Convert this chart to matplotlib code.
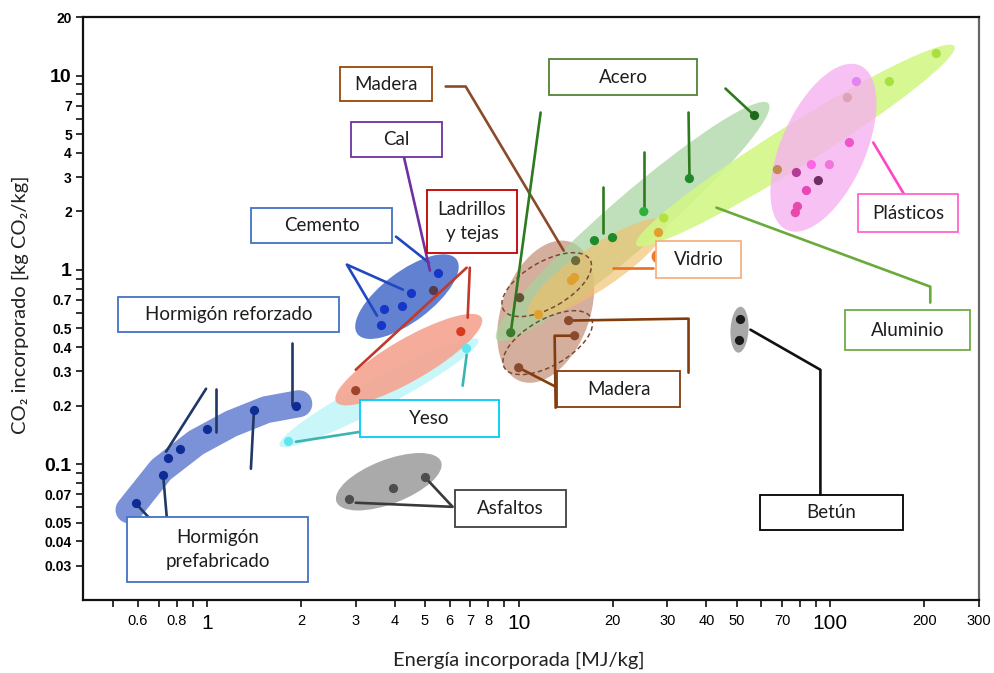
import matplotlib
matplotlib.use("Agg")
import matplotlib.pyplot as plt
from matplotlib.patches import Ellipse, Rectangle
from matplotlib.transforms import ScaledTranslation
from matplotlib.ticker import FixedLocator, NullLocator

# ---------------- data: embodied energy [MJ/kg] vs embodied CO2 [kg CO2/kg]
horm_x = [0.59, 0.72, 0.75, 0.82, 1.00, 1.42, 1.93]
horm_y = [0.063, 0.088, 0.108, 0.120, 0.152, 0.190, 0.200]
horm_band_x = [0.562, 0.712, 0.922, 1.194, 1.546, 1.97]
horm_band_y = [0.0582, 0.0936, 0.129, 0.1614, 0.1906, 0.2047]

yeso_x = [1.82, 6.76]
yeso_y = [0.132, 0.398]

ladr_x = [3.00, 6.52]
ladr_y = [0.239, 0.481]

cem_x = [3.61, 3.69, 4.22, 4.51, 5.50]
cem_y = [0.522, 0.631, 0.654, 0.763, 0.967]

cal_x = [5.30]
cal_y = [0.791]

asf_x = [2.85, 3.95, 4.99]
asf_y = [0.0663, 0.0756, 0.0861]

betun_x = [51.4, 51.1]
betun_y = [0.559, 0.437]

mad_x = [10.07, 15.23, 14.46, 15.12, 10.0]
mad_y = [0.719, 1.115, 0.548, 0.458, 0.3135]

acero_x = [9.43, 17.5, 20.0, 25.2, 35.3, 57.1]
acero_y = [0.475, 1.414, 1.465, 1.994, 2.949, 6.225]

vid_x = [11.5, 14.7, 15.1, 27.9]
vid_y = [0.595, 0.890, 0.923, 1.573]

alu_x = [29.2, 67.6, 154.6, 218.7]
alu_y = [1.85, 3.28, 9.31, 12.98]

plas_x = [121.2, 113.4, 115.1, 86.9, 99.3, 77.8, 91.5, 83.8, 78.4, 77.2]
plas_y = [9.31, 7.70, 4.52, 3.48, 3.48, 3.17, 2.88, 2.56, 2.12, 1.97]
plas_colors = ['#e284f2', '#dba2b8', '#ef55c6', '#ff66e6', '#f276d8',
               '#b43a98', '#6e2e62', '#e845b8', '#e848b0', '#e848ac']

x_ticks = [0.5, 0.6, 0.7, 0.8, 0.9, 1, 2, 3, 4, 5, 6, 7, 8, 9, 10,
           20, 30, 40, 50, 60, 70, 80, 90, 100, 200, 300]
x_labels = ['', '0.6', '', '0.8', '', '1', '2', '3', '4', '5', '6', '7', '8', '',
            '10', '20', '30', '40', '50', '', '70', '', '', '100', '200', '300']
y_ticks = [0.03, 0.04, 0.05, 0.06, 0.07, 0.08, 0.09, 0.1, 0.2, 0.3, 0.4, 0.5,
           0.6, 0.7, 0.8, 0.9, 1, 2, 3, 4, 5, 6, 7, 8, 9, 10, 20]
y_labels = ['0.03', '0.04', '0.05', '', '0.07', '', '', '0.1', '0.2', '0.3', '0.4',
            '0.5', '', '0.7', '', '', '1', '2', '3', '4', '5', '', '7', '', '', '10', '20']
big_labels = {'1', '10', '100', '0.1'}

TXT = ['Lato', 'DejaVu Sans']

fig = plt.figure(figsize=(9.95, 6.73), dpi=100)
ax = fig.add_axes([0.0834, 0.1085, 0.9006, 0.8662])
ax.set_xscale('log')
ax.set_yscale('log')
ax.set_xlim(0.4, 300)
ax.set_ylim(0.02, 20)


def blob(cx, cy, length, width, angle, color, alpha, z=1, **kw):
    """Ellipse sized in inches, centred on a data position."""
    tr = fig.dpi_scale_trans + ScaledTranslation(cx, cy, ax.transData)
    e = Ellipse((0, 0), length, width, angle=angle, transform=tr,
                zorder=z, **kw)
    if 'facecolor' not in kw:
        e.set_facecolor(color)
        e.set_edgecolor('none')
    e.set_alpha(alpha)
    ax.add_patch(e)


# ---------------- shaded groups
ax.plot(horm_band_x, horm_band_y, color='#6d85d4', lw=19.5, alpha=0.9,
        solid_capstyle='round', solid_joinstyle='round', zorder=1)
blob(3.56, 0.233, 2.25, 0.30, 28, '#c6f6f9', 0.95)           # Yeso
blob(4.44, 0.345, 1.68, 0.42, 30, '#f6a390', 0.9)            # Ladrillos
blob(4.38, 0.728, 1.24, 0.50, 37, '#5273cc', 0.9)            # Cemento
blob(3.83, 0.0812, 1.12, 0.44, 21, '#a6a6a6', 0.95)          # Asfaltos
blob(51.1, 0.492, 0.46, 0.18, 87, '#a3a3a3', 0.95)           # Betún
blob(12.21, 0.609, 1.48, 0.88, 70, '#c8947c', 0.75)          # Madera
blob(23.2, 1.771, 3.60, 0.52, 41, '#a6d39e', 0.7, z=2)       # Acero
blob(17.9, 1.026, 1.65, 0.42, 34, '#f1c06a', 0.65, z=2)      # Vidrio
blob(77.2, 4.36, 3.75, 0.42, 32, '#d2f786', 0.9, z=2)        # Aluminio
blob(95.0, 4.25, 1.80, 0.84, 66, '#f7b2f2', 0.8, z=2)        # Plásticos
for cx, cy in [(12.3, 0.839), (12.39, 0.422)]:
    blob(cx, cy, 1.0, 0.46, 30, None, 1.0, z=3, facecolor='none',
         edgecolor='#7a4a30', linestyle=(0, (3, 2)), linewidth=1.1)

# ---------------- leader lines
leaders = [
    ('#1f3864', [0.739, 0.993], [0.1159, 0.2444]),
    ('#1f3864', [1.069, 1.069], [0.2444, 0.1469]),
    ('#1f3864', [1.873, 1.873], [0.4218, 0.2022]),
    ('#1f3864', [1.415, 1.383], [0.1906, 0.0947]),
    ('#1f3864', [0.588, 0.661], [0.0633, 0.0517]),
    ('#1f3864', [0.723, 0.744], [0.0882, 0.0517]),
    ('#2148c0', [4.25, 2.81, 3.51], [0.791, 1.064, 0.581]),
    ('#2148c0', [4.04, 5.15], [1.482, 1.089]),
    ('#7030a0', [4.28, 5.19], [3.83, 0.991]),
    ('#c0392b', [6.81, 3.00], [1.026, 0.306]),
    ('#c0392b', [6.97, 6.86], [1.026, 0.567]),
    ('#3cb4b4', [1.929, 3.12], [0.1304, 0.1469]),
    ('#3cb4b4', [6.61, 6.81], [0.2533, 0.366]),
    ('#3a3a3a', [3.0, 6.14, 4.99], [0.0633, 0.0603, 0.0861]),
    ('#8b4a2b', [5.83, 6.76, 13.94], [8.78, 8.78, 1.256]),
    ('#2e7a1e', [11.76, 9.43], [6.45, 0.475]),
    ('#2e7a1e', [18.59, 18.59], [2.682, 1.554]),
    ('#2e7a1e', [25.16, 25.16], [4.06, 2.042]),
    ('#2e7a1e', [35.07, 35.33], [6.45, 2.949]),
    ('#2e7a1e', [46.07, 57.06], [8.57, 6.225]),
    ('#e87020', [20.01, 26.89], [1.026, 1.026]),
    ('#843c0c', [14.46, 35.07, 35.07], [0.548, 0.561, 0.2956]),
    ('#843c0c', [15.12, 13.04, 13.14], [0.458, 0.458, 0.1952]),
    ('#843c0c', [10.0, 13.14], [0.3135, 0.2503]),
    ('#6aaa3a', [43.1, 209.2, 209.2], [2.09, 0.8194, 0.678]),
    ('#ff44c4', [137.3, 172.6], [4.52, 2.44]),
    ('#111111', [55.4, 92.9, 92.9], [0.492, 0.306, 0.0696]),
]
for col, xs, ys in leaders:
    ax.plot(xs, ys, color=col, lw=1.9, zorder=4, solid_capstyle='round')

# small orange mark peeking out beside the glass label
ax.plot([27.9], [1.183], 'o', color='#f07a2a', ms=9, zorder=4)

# ---------------- points
ms = 44
ax.scatter(horm_x, horm_y, s=ms, color='#0d2c94', zorder=5, lw=0)
ax.scatter(yeso_x, yeso_y, s=ms, color='#5fe6f0', zorder=5, lw=0)
ax.scatter(ladr_x, ladr_y, s=ms, color=['#a0442a', '#d83a20'], zorder=5, lw=0)
ax.scatter(cem_x, cem_y, s=ms, color='#1636c8', zorder=5, lw=0)
ax.scatter(cal_x, cal_y, s=ms, color='#5a3a4a', zorder=5, lw=0)
ax.scatter(asf_x, asf_y, s=ms, color='#4d4d4d', zorder=5, lw=0)
ax.scatter(betun_x, betun_y, s=ms, color='#1a1a1a', zorder=5, lw=0)
ax.scatter(mad_x, mad_y, s=ms,
           color=['#5b5530', '#6b6a3a', '#8b4a2b', '#8b4a2b', '#8b4a2b'],
           zorder=5, lw=0)
ax.scatter(acero_x, acero_y, s=ms,
           color=['#3a7a2a', '#1f8a2a', '#1f8a2a', '#2fb03a', '#1f8a2a', '#1d6a1d'],
           zorder=5, lw=0)
ax.scatter(vid_x, vid_y, s=ms, color='#e0a030', zorder=5, lw=0)
ax.scatter(alu_x, alu_y, s=ms,
           color=['#b6e03a', '#c08a50', '#a8e040', '#a8e040'], zorder=5, lw=0)
ax.scatter(plas_x, plas_y, s=ms, color=plas_colors, zorder=5, lw=0)

# ---------------- label boxes (axes fractions)
boxes = [
    ('Madera', 0.2868, 0.8559, 0.1027, 0.0583, '#984807'),
    ('Cal', 0.2991, 0.7599, 0.1016, 0.0600, '#7030a0'),
    ('Acero', 0.5201, 0.8662, 0.1652, 0.0617, '#548235'),
    ('Cemento', 0.1875, 0.6123, 0.1574, 0.0600, '#4472c4'),
    ('Ladrillos\ny tejas', 0.3839, 0.5952, 0.1004, 0.1081, '#c00000'),
    ('Hormigón reforzado', 0.0391, 0.4597, 0.2467, 0.0600, '#4472c4'),
    ('Vidrio', 0.6395, 0.5523, 0.0949, 0.0635, '#f4b183'),
    ('Plásticos', 0.8650, 0.6312, 0.1116, 0.0652, '#ff66cc'),
    ('Aluminio', 0.8504, 0.4288, 0.1395, 0.0686, '#70ad47'),
    ('Madera', 0.5290, 0.3310, 0.1373, 0.0617, '#843c0c'),
    ('Yeso', 0.3092, 0.2796, 0.1551, 0.0635, '#00ccf5'),
    ('Asfaltos', 0.4152, 0.1252, 0.1239, 0.0635, '#404040'),
    ('Betún', 0.7556, 0.1201, 0.1596, 0.0600, '#000000'),
    ('Hormigón\nprefabricado', 0.0491, 0.0309, 0.2020, 0.1115, '#4472c4'),
]
for text, bx, by, bw, bh, ec in boxes:
    ax.add_patch(Rectangle((bx, by), bw, bh, transform=ax.transAxes,
                           facecolor='white', edgecolor=ec, lw=1.3, zorder=6))
    ax.text(bx + bw / 2, by + bh / 2, text, transform=ax.transAxes,
            ha='center', va='center', fontsize=13.5, family=TXT,
            color='#1e1e1e', linespacing=1.45, zorder=7)

# ---------------- axes styling
ax.xaxis.set_major_locator(FixedLocator(x_ticks))
ax.xaxis.set_minor_locator(NullLocator())
ax.set_xticklabels(x_labels)
ax.yaxis.set_major_locator(FixedLocator(y_ticks))
ax.yaxis.set_minor_locator(NullLocator())
ax.set_yticklabels(y_labels)
ax.tick_params(axis='both', direction='out', length=5, width=1.3, color='#222')
ax.tick_params(axis='x', pad=5)
ax.tick_params(axis='y', pad=3)
for lab in ax.get_xticklabels():
    lab.set_family('Liberation Sans')
    lab.set_fontsize(15 if lab.get_text() in big_labels else 10.5)
for lab in ax.get_yticklabels():
    lab.set_family('Liberation Sans')
    lab.set_fontweight('bold')
    lab.set_fontsize(14 if lab.get_text() in big_labels else 10)
for sp in ax.spines.values():
    sp.set_linewidth(1.6)
    sp.set_color('#111111')
ax.spines['right'].set_color('#666666')

fig.text(0.5216, 0.0193, 'Energía incorporada [MJ/kg]', ha='center', va='center',
         fontsize=14.5, family=TXT, color='#222')
fig.text(0.0201, 0.547, 'CO₂ incorporado [kg CO₂/kg]', ha='center', va='center',
         rotation=90, fontsize=14.5, family=TXT, color='#222')

fig.savefig('out.png', dpi=100)
